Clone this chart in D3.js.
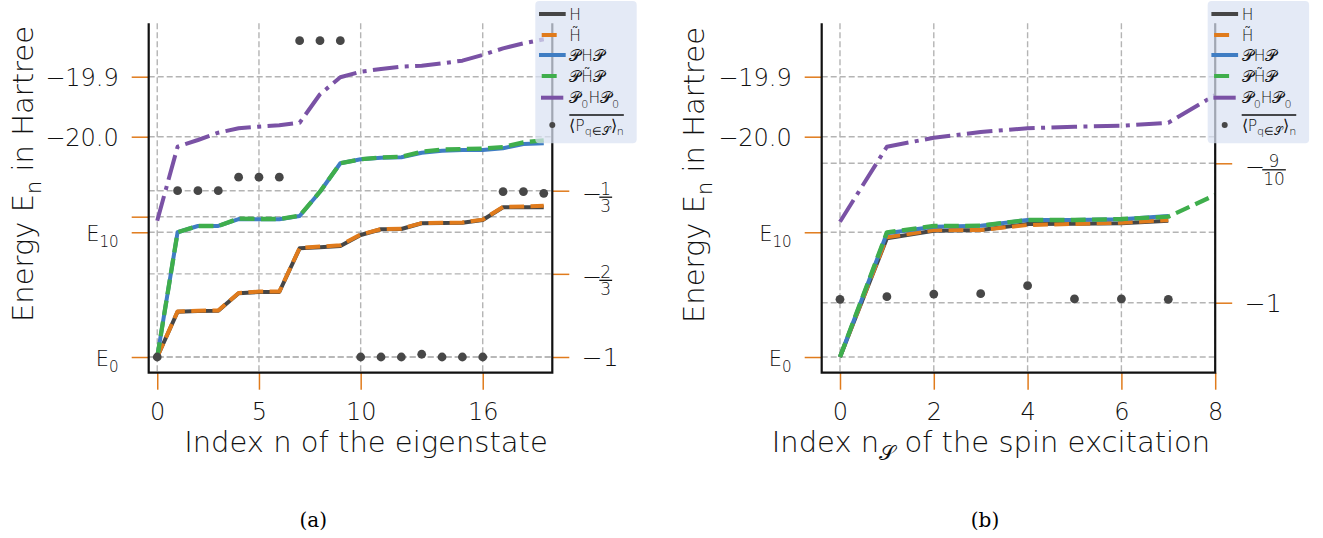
<!DOCTYPE html>
<html><head><meta charset="utf-8">
<script src="https://cdn.jsdelivr.net/npm/d3@7"></script>
<style>
body{margin:0;background:#fff;}
svg text{font-family:"DejaVu Sans ExtraLight","DejaVu Sans",sans-serif;font-weight:200;}
</style></head><body>
<svg id="c" width="1323" height="538"></svg>
<script>
// ---------------- data ----------------
const eigN = d3.range(20);
const eigH     = [-20.3672,-20.2917,-20.2905,-20.2900,-20.2610,-20.2588,-20.2588,-20.1860,-20.1843,-20.1822,-20.1638,-20.1543,-20.1538,-20.1443,-20.1438,-20.1433,-20.1388,-20.1177,-20.1177,-20.1177];
const eigHt    = [-20.3672,-20.2912,-20.2900,-20.2895,-20.2605,-20.2582,-20.2582,-20.1855,-20.1832,-20.1808,-20.1630,-20.1540,-20.1533,-20.1440,-20.1436,-20.1430,-20.1382,-20.1170,-20.1163,-20.1150];
const eigPHP   = [-20.3672,-20.1593,-20.1488,-20.1488,-20.1372,-20.1377,-20.1377,-20.1322,-20.0917,-20.0443,-20.0377,-20.0350,-20.0343,-20.0267,-20.0233,-20.0222,-20.0222,-20.0193,-20.0122,-20.0110];
const eigPHtP  = [-20.3672,-20.1593,-20.1488,-20.1488,-20.1365,-20.1372,-20.1372,-20.1318,-20.0917,-20.0443,-20.0377,-20.0345,-20.0335,-20.0250,-20.0215,-20.0205,-20.0198,-20.0172,-20.0095,-20.0060];
const eigP0HP0 = [-20.1400,-20.0167,-20.0055,-19.9933,-19.9860,-19.9833,-19.9810,-19.9767,-19.9293,-19.9010,-19.8917,-19.8872,-19.8833,-19.8817,-19.8777,-19.8733,-19.8638,-19.8527,-19.8443,-19.8377];
const eigProj  = [-1,-0.3333,-0.3333,-0.3333,-0.279,-0.279,-0.279,0.268,0.268,0.268,-1,-1,-1,-0.989,-1,-1,-1,-0.337,-0.337,-0.344];

const spinN = d3.range(9);
const spinH     = [-20.3672,-20.1693,-20.1567,-20.1555,-20.1455,-20.1450,-20.1443,-20.1400];
const spinHt    = [-20.3672,-20.1677,-20.1555,-20.1555,-20.1472,-20.1455,-20.1433,-20.1388];
const spinPHP   = [-20.3672,-20.1610,-20.1500,-20.1483,-20.1388,-20.1388,-20.1377,-20.1322];
const spinPHtP  = [-20.3672,-20.1593,-20.1488,-20.1483,-20.1388,-20.1388,-20.1372,-20.1333,-20.0972];
const spinP0HP0 = [-20.1417,-20.0167,-20.0017,-19.9922,-19.9860,-19.9833,-19.9817,-19.9767,-19.9305];
const spinProj  = [-0.9976,-0.9957,-0.9938,-0.9935,-0.9878,-0.9973,-0.9973,-0.9976];

const eigXTicks = [0,5,10,16];
const spinXTicks = [0,2,4,6,8];
const eigETicks = [-19.9,-20.0,-20.1333,-20.1593,-20.3672];
const eigETickLabels = ["−19.9","−20.0","","E_{10}","E_0"];
const spinETicks = [-19.9,-20.0,-20.1593,-20.3672];
const spinETickLabels = ["−19.9","−20.0","E_{10}","E_0"];
const eigPTicks = [-1/3,-2/3,-1];
const eigPTickLabels = ["−1/3","−2/3","−1"];
const spinPTicks = [-0.9,-1];
const spinPTickLabels = ["−9/10","−1"];

const seriesNames = ["H","H̃","𝒫H𝒫","𝒫H̃𝒫","𝒫_0H𝒫_0","⟨P_{q∈𝒮}⟩_n"];
const yLabel = "Energy E_n in Hartree";
const xLabelA = "Index n of the eigenstate";
const xLabelB = "Index n_𝒮 of the spin excitation";

// ---------------- styles ----------------
const COL = {H:"#464646", Ht:"#e07b1c", PHP:"#3f7dc3", PHtP:"#3fae4c", P0:"#7a52a5", dot:"#474747", tick:"#e07b1c", grid:"#b4b4b4", txt:"#111111"};
const DASH = "14.8,6.4", DASHDOT = "25.6,6.4,4,6.4";

const svg = d3.select("#c");

function mathText(sel, str, size){
  const chars = Array.from(str);
  let runs = []; let i = 0; let buf = "";
  while(i < chars.length){
    if(chars[i] === "_"){
      if(buf){runs.push({t:buf,sub:false}); buf="";}
      i++;
      let s = "";
      if(chars[i] === "{"){ i++; while(i<chars.length && chars[i] !== "}"){ s += chars[i]; i++; } i++; }
      else { s = chars[i]; i++; }
      runs.push({t:s,sub:true});
    } else { buf += chars[i]; i++; }
  }
  if(buf) runs.push({t:buf,sub:false});
  let shifted = false;
  runs.forEach(r=>{
    const ts = sel.append("tspan").text(r.t);
    if(r.sub){ ts.attr("font-size", size*0.72).attr("dy", shifted?0:size*0.28); shifted = true; }
    else { ts.attr("font-size", size).attr("dy", shifted? -size*0.28 : 0); shifted = false; }
  });
  return sel;
}

function drawPanel(cfg){
  const g = svg.append("g");
  const x = d3.scaleLinear().domain(cfg.xDomain).range([cfg.x0, cfg.x1]);
  const yE = d3.scaleLinear().domain([-20.0,-19.9]).range([136.7,76.7]);
  const yP = d3.scaleLinear().domain(cfg.pDomain).range(cfg.pRange);

  // grid
  const grid = g.append("g").attr("stroke", COL.grid).attr("stroke-width",1.4).attr("stroke-dasharray","6,3");
  grid.selectAll(".vx").data(cfg.xTicks).join("line")
    .attr("x1",d=>x(d)).attr("x2",d=>x(d)).attr("y1",cfg.top).attr("y2",cfg.bottom);
  grid.selectAll(".hy").data(cfg.eTicks).join("line")
    .attr("x1",cfg.x0).attr("x2",cfg.x1).attr("y1",d=>yE(d)).attr("y2",d=>yE(d));
  grid.selectAll(".hp").data(cfg.pTicks).join("line")
    .attr("x1",cfg.x0).attr("x2",cfg.x1).attr("y1",d=>yP(d)).attr("y2",d=>yP(d));

  // lines
  const line = d3.line().x((d,i)=>x(i)).y(d=>yE(d));
  const series = [
    {d:cfg.H, c:COL.H, dash:null, w:4},
    {d:cfg.Ht, c:COL.Ht, dash:DASH, w:4},
    {d:cfg.PHP, c:COL.PHP, dash:null, w:4},
    {d:cfg.PHtP, c:COL.PHtP, dash:DASH, w:4.3},
    {d:cfg.P0, c:COL.P0, dash:DASHDOT, w:4},
  ];
  series.forEach(s=>{
    g.append("path").datum(s.d).attr("d",line).attr("fill","none")
      .attr("stroke",s.c).attr("stroke-width",s.w)
      .attr("stroke-dasharray",s.dash).attr("stroke-linejoin","round");
  });
  g.selectAll(".dot").data(cfg.P).join("circle")
    .attr("cx",(d,i)=>x(i)).attr("cy",d=>yP(d)).attr("r",4.4).attr("fill",COL.dot);

  // axes
  const gx = g.append("g").attr("transform",`translate(0,${cfg.bottom})`)
    .call(d3.axisBottom(x).tickValues(cfg.xTicks).tickSize(17).tickSizeOuter(0).tickFormat(d3.format("d")));
  gx.select(".domain").remove();
  gx.selectAll(".tick line").attr("stroke",COL.tick).attr("stroke-width",1.5);
  gx.selectAll(".tick text").attr("font-size",24).attr("fill",COL.txt).attr("y",47.3).attr("dy",null);

  const gyl = g.append("g").attr("transform",`translate(${cfg.x0},0)`)
    .call(d3.axisLeft(yE).tickValues(cfg.eTicks).tickSize(17).tickSizeOuter(0).tickFormat(""));
  gyl.select(".domain").remove();
  gyl.selectAll(".tick line").attr("stroke",COL.tick).attr("stroke-width",1.5);
  gyl.selectAll(".tick text").remove();
  gyl.selectAll(".tick").each(function(d,i){
    const lab = cfg.eLabels[i];
    if(!lab) return;
    const t = d3.select(this).append("text").attr("text-anchor","end").attr("fill",COL.txt).attr("x",-30);
    if(lab.startsWith("E")){
      t.attr("y",8.4);
      mathText(t, lab, 21);
    } else {
      t.attr("y",8.4).attr("font-size",24).text(lab);
    }
  });

  const gyr = g.append("g").attr("transform",`translate(${cfg.x1},0)`)
    .call(d3.axisRight(yP).tickValues(cfg.pTicks).tickSize(17).tickSizeOuter(0).tickFormat(""));
  gyr.select(".domain").remove();
  gyr.selectAll(".tick line").attr("stroke",COL.tick).attr("stroke-width",1.5);
  gyr.selectAll(".tick text").remove();
  gyr.selectAll(".tick").each(function(d,i){
    const lab = cfg.pLabels[i];
    const tk = d3.select(this);
    if(lab.includes("/")){
      const [num, den] = lab.replace("−","").split("/");
      tk.append("text").attr("x",29.5).attr("y",11).attr("font-size",24).attr("fill",COL.txt).text("−");
      const dt = tk.append("text").attr("text-anchor","middle").attr("y",21).attr("font-size",17).attr("fill",COL.txt).text(den);
      const w = Math.max(dt.node().getComputedTextLength(), 9) + 2;
      const cx = 47 + w/2;
      dt.attr("x",cx);
      tk.append("text").attr("text-anchor","middle").attr("x",cx).attr("y",3.5).attr("font-size",17).attr("fill",COL.txt).text(num);
      tk.append("line").attr("x1",47).attr("x2",47+w).attr("y1",6).attr("y2",6).attr("stroke","#111").attr("stroke-width",1.3);
    } else {
      tk.append("text").attr("x",29.5).attr("y",8.5).attr("font-size",25).attr("fill",COL.txt).text(lab);
    }
  });

  // spines
  const sp = g.append("g").attr("stroke","#111").attr("stroke-width",2.2).attr("fill","none");
  sp.append("path").attr("d",`M${cfg.x0},${cfg.top}V${cfg.bottom}H${cfg.x1}V${cfg.top}`);

  // axis labels
  const yl = g.append("text").attr("transform",`translate(${cfg.yLabX},${cfg.yLabY}) rotate(-90)`)
    .attr("text-anchor","middle").attr("fill",COL.txt);
  mathText(yl, yLabel, 29);
  const xl = g.append("text").attr("x",cfg.xLabX).attr("y",451.7).attr("text-anchor","middle").attr("fill",COL.txt);
  mathText(xl, cfg.xLabel, 29);

  // caption
  g.append("text").attr("x",cfg.capX).attr("y",527).attr("text-anchor","middle")
    .style("font-family","'DejaVu Serif','Liberation Serif',serif").style("font-weight","400")
    .attr("font-size",20).attr("fill","#000").text(cfg.caption);

  // legend
  const L = g.append("g").attr("transform",`translate(${cfg.legX},1)`);
  L.append("rect").attr("width",101.4).attr("height",142.3).attr("rx",4)
    .attr("fill","#dae2f2").attr("fill-opacity",0.72);
  const rows = [13,34,54,75,96.7,124];
  const hs = [
    {c:COL.H, a:3.7, b:30.4},{c:COL.Ht, a:6.4, b:21.4},{c:COL.PHP, a:3.7, b:30.4},
    {c:COL.PHtP, a:6.4, b:21.4},{c:COL.P0, a:5.7, b:28}
  ];
  hs.forEach((h,i)=>{
    L.append("line").attr("x1",h.a).attr("x2",h.b).attr("y1",rows[i]).attr("y2",rows[i])
      .attr("stroke",h.c).attr("stroke-width",4);
  });
  L.append("circle").attr("cx",17).attr("cy",rows[5]).attr("r",3).attr("fill",COL.dot);
  seriesNames.forEach((nm,i)=>{
    const t = L.append("text").attr("x",34).attr("y",rows[i]+5.5).attr("fill",COL.txt);
    mathText(t, nm, 15.5);
    if(i===5){
      const bb = t.node().getBBox();
      L.append("line").attr("x1",bb.x).attr("x2",bb.x+bb.width).attr("y1",rows[i]-10).attr("y2",rows[i]-10)
        .attr("stroke","#111").attr("stroke-width",1.5);
    }
  });
}

drawPanel({
  x0:148.7, x1:552.3, top:23.3, bottom:372.7, xDomain:[-0.42,19.42],
  pDomain:[-1,-1/3], pRange:[357,190.7],
  xTicks:eigXTicks, eTicks:eigETicks, eLabels:eigETickLabels, pTicks:eigPTicks, pLabels:eigPTickLabels,
  H:eigH, Ht:eigHt, PHP:eigPHP, PHtP:eigPHtP, P0:eigP0HP0, P:eigProj,
  yLabX:32.5, yLabY:174, xLabX:366, xLabel:xLabelA, capX:313.3, caption:"(a)", legX:535.3
});
drawPanel({
  x0:821.7, x1:1215.2, top:23.3, bottom:372.7, xDomain:[-0.39,8],
  pDomain:[-1,-0.9], pRange:[302.7,163.3],
  xTicks:spinXTicks, eTicks:spinETicks, eLabels:spinETickLabels, pTicks:spinPTicks, pLabels:spinPTickLabels,
  H:spinH, Ht:spinHt, PHP:spinPHP, PHtP:spinPHtP, P0:spinP0HP0, P:spinProj,
  yLabX:704, yLabY:175, xLabX:991, xLabel:xLabelB, capX:985, caption:"(b)", legX:1207.7
});
</script>
</body></html>
